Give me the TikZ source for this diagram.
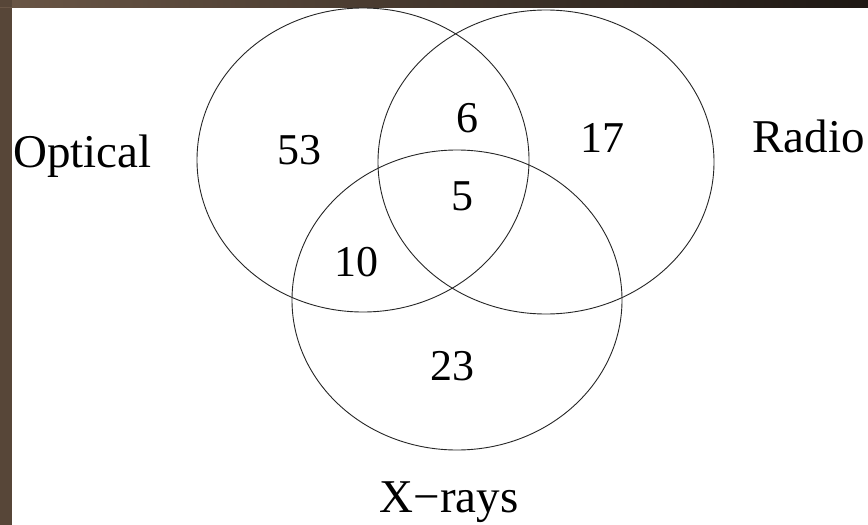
\documentclass[tikz,border=0pt]{standalone}
\usepackage{fontspec}
\setmainfont{Liberation Serif}
\definecolor{bgbrown}{HTML}{574638}
\definecolor{topbrown}{HTML}{6A5646}
\definecolor{topdark}{HTML}{1E1814}
\tikzset{
  setring/.style={draw=black!85, line width=0.9pt},
  lbl/.style={font=\fontsize{47}{50}\selectfont, inner sep=0pt},
  num/.style={font=\fontsize{44}{48}\selectfont, inner sep=0pt}
}
\begin{document}
\begin{tikzpicture}[x=1pt,y=-1pt]
\useasboundingbox (0,0) rectangle (868,525);
\fill[white] (0,0) rectangle (868,525);
\fill[bgbrown] (0,0) rectangle (12,525);
\shade[left color=topbrown, right color=topdark] (0,0) rectangle (868,7);
\fill[bgbrown] (0,0) rectangle (12,7);
% sets
\draw[setring] (363,160) ellipse [x radius=166, y radius=152];
\draw[setring] (546,162) ellipse [x radius=168, y radius=152];
\draw[setring] (457,300) ellipse [x radius=165, y radius=150];
% labels
\node[lbl, anchor=base west] (opt) at (13,167) {Optical};
\node[lbl, anchor=base east] (rad) at (865,152) {Radio};
\node[lbl, anchor=base] (xr) at (449,512) {X−rays};
% counts
\node[num] (n53) at (299,150) {53};
\node[num] (n6) at (467,118) {6};
\node[num] (n17) at (602,138) {17};
\node[num] (n5) at (462,196) {5};
\node[num] (n10) at (356,262) {10};
\node[num] (n23) at (452,366) {23};
\end{tikzpicture}
\end{document}
